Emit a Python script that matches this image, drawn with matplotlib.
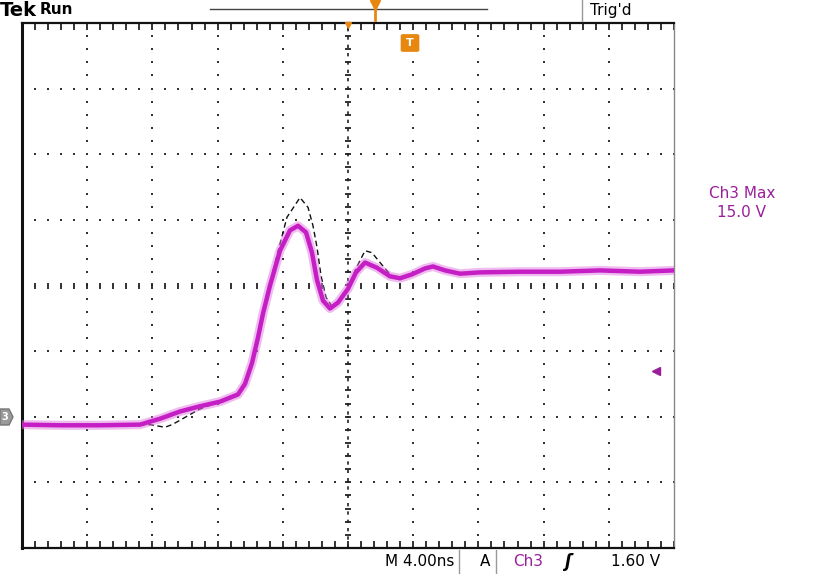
import numpy as np
import matplotlib
matplotlib.use('Agg')
import matplotlib.pyplot as plt
from matplotlib.patches import Polygon, FancyBboxPatch

# screen is 10 x 8 divisions, values below are in divisions
ch3_t = [0.0, 0.583, 1.196, 1.810, 2.117, 2.423, 2.730, 3.037, 3.313, 3.420,
         3.528, 3.620, 3.696, 3.804, 3.957, 4.110, 4.233, 4.356, 4.448, 4.525,
         4.617, 4.724, 4.847, 5.0, 5.123, 5.261, 5.445, 5.644, 5.798, 5.982,
         6.181, 6.304, 6.488, 6.718, 7.025, 7.638, 8.252, 8.865, 9.479, 10.0]
ch3_v = [-2.12, -2.13, -2.13, -2.12, -2.03, -1.92, -1.84, -1.77, -1.66, -1.50,
         -1.18, -0.79, -0.43, 0.0, 0.53, 0.84, 0.91, 0.81, 0.50, 0.08,
         -0.23, -0.35, -0.26, -0.05, 0.20, 0.35, 0.27, 0.14, 0.11, 0.17,
         0.26, 0.29, 0.23, 0.18, 0.20, 0.21, 0.21, 0.23, 0.21, 0.23]

# reference (dashed) trace
ref_t = [0.0, 1.963, 2.193, 2.301, 2.393, 2.730, 3.037, 3.313, 3.466, 3.574,
         3.681, 3.773, 3.911, 4.064, 4.264, 4.387, 4.463, 4.525, 4.586, 4.663,
         4.755, 4.877, 5.0, 5.123, 5.261, 5.368, 5.491, 5.644, 5.798, 5.982,
         6.181, 6.304, 6.488, 6.718, 7.025, 7.638, 8.252, 8.865, 9.479, 10.0]
ref_v = [-2.12, -2.12, -2.16, -2.12, -2.07, -1.88, -1.77, -1.66, -1.37, -0.99,
         -0.56, -0.08, 0.46, 1.04, 1.34, 1.19, 0.91, 0.58, 0.15, -0.18,
         -0.32, -0.23, -0.03, 0.26, 0.53, 0.50, 0.35, 0.17, 0.09, 0.17,
         0.26, 0.29, 0.23, 0.18, 0.20, 0.21, 0.21, 0.23, 0.21, 0.23]

trig_level = -1.30
magenta = '#c41ec4'
purple = '#9a1e9a'
orange = '#e8870f'

W, H = 820, 574
fig = plt.figure(figsize=(W / 100, H / 100), dpi=100)
fig.patch.set_facecolor('white')
ax = fig.add_axes([22 / W, 26 / H, 652 / W, 525 / H])
ax.set_xlim(0, 10)
ax.set_ylim(-4, 4)


def px(x, y):
    # figure pixel (from top-left) -> figure fraction
    return x / W, 1 - y / H


# graticule dots
fine = np.arange(0, 10.01, 0.2)
fine_y = np.arange(-4, 4.01, 0.2)
for k in range(1, 10):
    if k == 5:
        continue
    ax.plot(np.full(len(fine_y), k), fine_y, ls='none', marker='s',
            ms=1.5, color='#333333', mew=0)
for k in range(-3, 4):
    if k == 0:
        continue
    ax.plot(fine, np.full(len(fine), k), ls='none', marker='s',
            ms=1.5, color='#333333', mew=0)

# centre lines
ax.plot([5, 5], [-4, 4], color='#222222', lw=1.2, ls=(0, (2, 3)))
ax.plot(fine, np.zeros(len(fine)), ls='none', marker='|', ms=5,
        mew=1.3, color='#222222')
ax.plot(np.full(len(fine_y), 5), fine_y, ls='none', marker='_', ms=5,
        mew=1.3, color='#222222')

# traces: dashed reference under the live trace
ax.plot(ref_t, ref_v, color='#111111', lw=1.0, ls=(0, (4, 2.5)), zorder=3)
ax.plot(ch3_t, ch3_v, color='#e07ae0', lw=6.5, alpha=0.5,
        solid_joinstyle='round', zorder=4)
ax.plot(ch3_t, ch3_v, color=magenta, lw=3.2, solid_joinstyle='round',
        zorder=5)

# frame
ax.set_xticks(range(11))
ax.set_xticks(fine, minor=True)
ax.set_yticks([])
ax.tick_params(axis='x', which='both', direction='in', top=True,
               bottom=True, labelbottom=False, length=5, width=1.2,
               color='#111111')
for s in ['left', 'bottom', 'top']:
    ax.spines[s].set_color('#111111')
ax.spines['left'].set_linewidth(2.2)
ax.spines['bottom'].set_linewidth(1.6)
ax.spines['top'].set_linewidth(1.6)
ax.spines['right'].set_color('#888888')
ax.spines['right'].set_linewidth(1.0)

# trigger level marker
ax.plot([9.72], [trig_level], marker='<', ms=6, color=purple, clip_on=False)

# top status bar
fig.text(*px(0, 10), 'Tek', fontsize=14, fontweight='bold', va='center',
         family='DejaVu Sans')
fig.text(*px(40, 10), 'Run', fontsize=11, fontweight='bold', va='center',
         family='DejaVu Sans')
fig.add_artist(plt.Line2D([210 / W, 487 / W], [1 - 9 / H, 1 - 9 / H],
                          color='#444444', lw=1))
fig.add_artist(plt.Line2D([375 / W, 375 / W], [1 - 4 / H, 1 - 20 / H],
                          color=orange, lw=2))
fig.add_artist(plt.Line2D([375 / W], [1 - 5 / H], marker='v', ms=7,
                          color=orange))
fig.add_artist(plt.Line2D([582 / W, 582 / W], [1, 1 - 21 / H],
                          color='#999999', lw=1))
fig.text(*px(590, 10), "Trig'd", fontsize=11, va='center')

# trigger position markers
fig.add_artist(plt.Line2D([348 / W], [1 - 25 / H], marker='v', ms=5,
                          color=orange))
fig.add_artist(FancyBboxPatch((403 / W, 1 - 50 / H), 14 / W, 14 / H,
                              boxstyle='round,pad=0.002', fc=orange,
                              ec=orange, transform=fig.transFigure))
fig.text(*px(410, 43), 'T', color='white', fontsize=8, fontweight='bold',
         ha='center', va='center')

# channel ground marker
fig.add_artist(Polygon([px(0, 409), px(9, 409), px(13, 417), px(9, 425),
                        px(0, 425)], closed=True, fc='#9a9a9a', ec='#777777',
                       transform=fig.transFigure))
fig.text(*px(5, 417), '3', color='white', fontsize=7, fontweight='bold',
         ha='center', va='center')

# right readout
fig.text(*px(742, 193), 'Ch3 Max', color=purple, fontsize=11,
         ha='center', va='center')
fig.text(*px(742, 213), '15.0 V', color=purple, fontsize=11,
         ha='center', va='center')

# bottom status bar
fig.text(*px(454, 562), 'M 4.00ns', fontsize=11, ha='right', va='center')
fig.add_artist(plt.Line2D([459 / W, 459 / W], [1 - 550 / H, 0],
                          color='#999999', lw=1))
fig.text(*px(485, 562), 'A', fontsize=11, ha='center', va='center')
fig.add_artist(plt.Line2D([496 / W, 496 / W], [1 - 550 / H, 0],
                          color='#999999', lw=1))
fig.text(*px(528, 562), 'Ch3', color=purple, fontsize=11, ha='center',
         va='center')
fig.text(*px(568, 562), 'ʃ', fontsize=12, fontweight='bold', ha='center',
         va='center', style='italic')
fig.text(*px(660, 562), '1.60 V', fontsize=11, ha='right', va='center')

fig.savefig('out.png', dpi=100, facecolor='white')
